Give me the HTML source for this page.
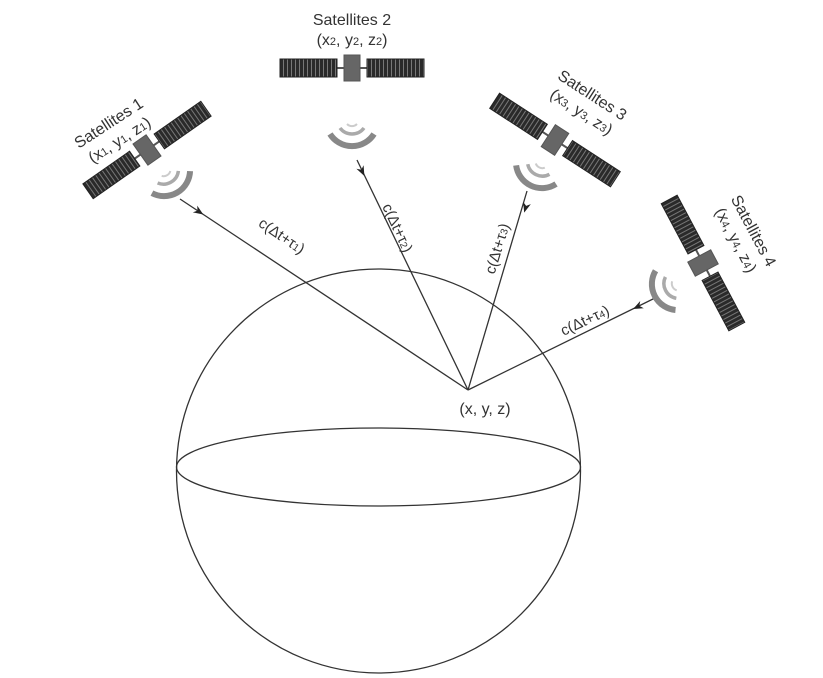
<!DOCTYPE html>
<html><head><meta charset="utf-8"><style>html,body{margin:0;padding:0;background:#fff}svg{display:block}text{font-family:"Liberation Sans",sans-serif;fill:#333}</style></head>
<body>
<svg width="823" height="678" viewBox="0 0 823 678" xmlns="http://www.w3.org/2000/svg">
<defs>
<pattern id="pp" width="4" height="10" patternUnits="userSpaceOnUse"><rect width="4" height="10" fill="#2a2a2a"/><rect x="3" width="1" height="10" fill="#777"/></pattern>
<g id="sat">
<line x1="-45" y1="0" x2="45" y2="0" stroke="#555" stroke-width="2"/>
<rect x="-72" y="-9" width="57" height="18" fill="url(#pp)" stroke="#222"/>
<rect x="15" y="-9" width="57" height="18" fill="url(#pp)" stroke="#222"/>
<rect x="-8" y="-13" width="16" height="26" fill="#666" stroke="#555"/>
</g>
<g id="wave" fill="none">
<path d="M-5,4 A7,7 0 0 0 5,4" stroke-width="2" stroke="#ccc"/>
<path d="M-12,8 A15,15 0 0 0 12,8" stroke-width="3.5" stroke="#aaa"/>
<path d="M-22,14 A26,26 0 0 0 22,14" stroke-width="6" stroke="#888"/>
</g>
</defs>

<circle cx="378.5" cy="471" r="202" fill="none" stroke="#333" stroke-width="1.3"/>
<ellipse cx="378.5" cy="467" rx="202" ry="39" fill="none" stroke="#333" stroke-width="1.3"/>

<g stroke="#333" stroke-width="1.3">
<line x1="468" y1="390" x2="180" y2="199"/>
<line x1="468" y1="390" x2="357" y2="160"/>
<line x1="468" y1="390" x2="527" y2="191"/>
<line x1="468" y1="390" x2="655" y2="298"/>
</g>
<g fill="#222">
<path d="M0,-4 L10,0 L0,4 L3,0 Z" transform="translate(195,209) rotate(33.5)"/>
<path d="M0,-4 L10,0 L0,4 L3,0 Z" transform="translate(360,167) rotate(64)"/>
<path d="M0,-4 L10,0 L0,4 L3,0 Z" transform="translate(527,203) rotate(106.4)"/>
<path d="M0,-4 L10,0 L0,4 L3,0 Z" transform="translate(642,304.6) rotate(153.8)"/>
</g>

<use href="#sat" transform="translate(352,68)"/>
<use href="#wave" transform="translate(352,120)"/>
<text x="352" y="25" font-size="16" text-anchor="middle">Satellites 2</text>
<text x="352" y="45" font-size="16" text-anchor="middle">(x<tspan font-size="11">2</tspan>, y<tspan font-size="11">2</tspan>, z<tspan font-size="11">2</tspan>)</text>

<use href="#sat" transform="translate(147,150) rotate(-35)"/>
<use href="#wave" transform="translate(164,170) rotate(-30)"/>
<g transform="translate(117,136) rotate(-33)">
<text x="0" y="-10" font-size="16" text-anchor="middle">Satellites 1</text>
<text x="0" y="10" font-size="16" text-anchor="middle">(x<tspan font-size="11">1</tspan>, y<tspan font-size="11">1</tspan>, z<tspan font-size="11">1</tspan>)</text>
</g>

<use href="#sat" transform="translate(555,140) rotate(33)"/>
<use href="#wave" transform="translate(542,162) rotate(25)"/>
<g transform="translate(584,108) rotate(33)">
<text x="0" y="-10" font-size="16" text-anchor="middle">Satellites 3</text>
<text x="0" y="10" font-size="16" text-anchor="middle">(x<tspan font-size="11">3</tspan>, y<tspan font-size="11">3</tspan>, z<tspan font-size="11">3</tspan>)</text>
</g>

<use href="#sat" transform="translate(703,263) rotate(62)"/>
<use href="#wave" transform="translate(678,284) rotate(63)"/>
<g transform="translate(740,238) rotate(62)">
<text x="0" y="-10" font-size="16" text-anchor="middle">Satellites 4</text>
<text x="0" y="10" font-size="16" text-anchor="middle">(x<tspan font-size="11">4</tspan>, y<tspan font-size="11">4</tspan>, z<tspan font-size="11">4</tspan>)</text>
</g>

<text font-size="15" text-anchor="middle" transform="translate(279,240) rotate(34)">c(Δt+τ<tspan font-size="10">1</tspan>)</text>
<text font-size="15" text-anchor="middle" transform="translate(393,230) rotate(65)">c(Δt+τ<tspan font-size="10">2</tspan>)</text>
<text font-size="15" text-anchor="middle" transform="translate(502,250) rotate(-73)">c(Δt+τ<tspan font-size="10">3</tspan>)</text>
<text font-size="15" text-anchor="middle" transform="translate(587,325) rotate(-25)">c(Δt+τ<tspan font-size="10">4</tspan>)</text>

<text x="485" y="414" font-size="16" text-anchor="middle">(x, y, z)</text>
</svg>
</body></html>
